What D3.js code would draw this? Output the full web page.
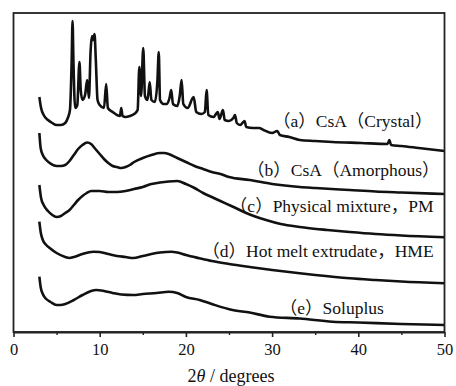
<!DOCTYPE html>
<html>
<head>
<meta charset="utf-8">
<script src="https://cdn.jsdelivr.net/npm/d3@7"></script>
<style>
  body { margin: 0; background: #fff; }
  svg { display: block; }
  .tick text { font-family: "Liberation Serif", "Times New Roman", serif; font-size: 16.5px; fill: #111; }
  .lbl { font-family: "Liberation Serif", "Times New Roman", "Noto Sans CJK SC", serif; font-size: 17.5px; fill: #111; }
</style>
</head>
<body>
<div id="chart"></div>
<script>
// XRD patterns, [2theta (deg), intensity (a.u., stacked)]
var crystal = [[3.0,235],[3.2,224],[3.5,217],[4.0,212],[4.5,209],[5.0,207],[5.5,207],[6.0,209],[6.3,214],[6.55,222],
  [6.75,272],[6.85,311],[6.95,272],[7.15,224],[7.4,227],[7.65,270],[7.8,242],[8.0,232],[8.3,237],[8.55,252],[8.75,234],
  [8.95,282],[9.1,296],[9.25,292],[9.4,298],[9.55,272],[9.75,232],[10.0,227],[10.5,224],[10.75,248],[10.95,224],[11.5,220],
  [12.0,217],[12.35,216],[12.5,224],[12.65,216],[13.0,215],[13.5,216],[14.0,218],[14.4,222],[14.6,265],[14.8,236],[15.05,284],
  [15.25,236],[15.55,232],[15.8,250],[16.0,232],[16.4,230],[16.7,252],[16.85,280],[17.0,232],[17.4,228],[17.8,228],[18.1,234],
  [18.3,242],[18.5,228],[19.0,226],[19.3,237],[19.5,252],[19.7,228],[20.2,224],[20.9,235],[21.2,220],[21.8,218],[22.2,220],
  [22.4,242],[22.6,217],[23.2,215],[23.7,220],[23.9,213],[24.3,222],[24.5,212],[25.0,211],[25.5,214],[25.7,217],[25.9,209],
  [26.3,207],[26.8,211],[27.0,205],[27.8,204],[28.5,204],[29.0,202],[30.0,199],[30.6,201],[30.9,197],[32.0,195],[33.2,192],
  [35.0,191],[37.0,190],[40.3,189],[43.4,188],[43.6,192],[43.8,187],[45.0,186],[47.0,184],[50.0,181]];

var amorphous = [[3.0,199],[3.15,184],[3.4,177],[3.8,172],[4.2,169],[5.0,166],[5.5,166],[6.0,167],[6.5,171],[7.0,177],
  [7.5,183],[8.0,187],[8.55,189.5],[9.0,188],[9.5,183],[10.0,178],[10.5,173],[11.0,169],[11.5,166],[12.0,165],[12.5,164],
  [13.0,165],[13.5,167],[14.0,170],[15.0,174],[16.0,177],[17.0,179],[17.5,179],[18.0,178],[19.0,174],[20.0,170],[21.0,166],
  [22.0,163],[23.0,160],[24.0,158],[25.0,155],[27.4,152],[30.0,148],[33.2,145],[35.0,144],[39.0,142],[42.0,140.5],
  [45.0,139.5],[50.0,138]];

var physMix = [[3.0,147],[3.2,134],[3.5,127],[4.0,121],[4.5,117],[5.0,115],[5.5,116],[6.0,119],[6.5,122],[7.0,127],
  [7.5,132],[8.0,136],[8.5,139],[9.0,141],[10.0,141],[11.0,140],[12.0,140],[13.0,141],[14.0,143],[15.0,145],[16.0,148],
  [17.0,149.5],[18.0,150.5],[19.0,151],[20.0,148],[21.0,144],[22.0,139],[23.0,135],[24.0,131],[25.4,125.5],[27.0,119],
  [29.3,112],[31.0,108],[33.2,105],[36.4,102],[39.0,100],[42.0,98],[45.0,96.5],[50.0,94.7]];

var hme = [[3.0,110.3],[3.15,100],[3.4,92],[3.8,87],[4.2,84],[5.0,79],[6.0,75],[6.5,74],[7.0,75],[8.0,78],[9.25,80.3],
  [10.0,80],[11.0,78],[12.0,76],[13.0,75],[13.9,74],[15.0,76],[16.0,78],[17.0,79.5],[18.3,80.3],[19.0,79.5],[20.0,77],
  [21.6,73.7],[23.0,71],[25.0,68],[27.4,65],[30.0,62],[33.2,58.7],[35.0,57],[39.0,53.7],[42.0,52],[45.0,50.5],[50.0,48.7]];

var soluplus = [[3.0,55.3],[3.15,45],[3.4,38],[3.8,33],[4.3,30],[5.0,27],[5.5,27],[6.0,28],[7.0,32],[8.0,37],[9.0,41],
  [9.6,42],[10.5,41],[11.5,39],[12.5,37.5],[13.9,37],[15.0,38],[16.6,39],[18.0,40.3],[19.0,39],[20.0,35],[21.6,32],
  [23.0,28],[25.4,22],[27.4,19.5],[29.7,15.3],[33.2,13.5],[37.0,10.3],[40.0,9.5],[45.0,8],[50.0,7]];

var labels = ["（a）CsA（Crystal）", "（b）CsA（Amorphous）", "（c）Physical mixture，PM",
  "（d）Hot melt extrudate，HME", "（e）Soluplus"];
// where each label starts, [2theta, intensity]
var labelAt = [[30.1,205],[27.1,156],[25.1,120],[21.9,75],[30.9,18]];

var majorTicks = [0, 10, 20, 30, 40, 50];
var minorTicks = [5, 15, 25, 35, 45];

var W = 456, H = 386;
var margin = {top: 13, right: 11.5, bottom: 54, left: 13.5};

var svg = d3.select("#chart").append("svg")
  .attr("width", W).attr("height", H);

var x = d3.scaleLinear().domain([0, 50]).range([margin.left, W - margin.right]);
var y = d3.scaleLinear().domain([0, 319]).range([H - margin.bottom, margin.top]);

var line = d3.line()
  .x(d => x(d[0]))
  .y(d => y(d[1]))
  .curve(d3.curveMonotoneX);

var series = [crystal, amorphous, physMix, hme, soluplus];

svg.append("g").selectAll("path")
  .data(series)
  .enter().append("path")
    .attr("d", line)
    .attr("fill", "none")
    .attr("stroke", "#111")
    .attr("stroke-width", 2.6)
    .attr("stroke-linejoin", "round");

svg.append("g").selectAll("text")
  .data(labels)
  .enter().append("text")
    .attr("class", "lbl")
    .attr("x", (d, i) => x(labelAt[i][0]))
    .attr("y", (d, i) => y(labelAt[i][1]))
    .text(d => d);

// frame
svg.append("rect")
  .attr("x", x(0)).attr("y", y(319))
  .attr("width", x(50) - x(0)).attr("height", y(0) - y(319))
  .attr("fill", "none").attr("stroke", "#222").attr("stroke-width", 1.8);

var xAxis = svg.append("g")
  .attr("transform", "translate(0," + y(0) + ")")
  .call(d3.axisBottom(x).tickValues(majorTicks).tickSize(5).tickSizeOuter(0).tickPadding(6));
xAxis.select(".domain").attr("stroke", "#222").attr("stroke-width", 1.8);
xAxis.selectAll(".tick line").attr("stroke", "#222").attr("stroke-width", 1.6);

svg.append("g")
  .attr("transform", "translate(0," + y(0) + ")")
  .call(d3.axisBottom(x).tickValues(minorTicks).tickSize(3).tickFormat(""))
  .call(g => g.select(".domain").remove())
  .selectAll(".tick line").attr("stroke", "#222").attr("stroke-width", 1.4);

var title = svg.append("text")
  .attr("class", "lbl")
  .attr("x", (x(0) + x(50)) / 2 + 2)
  .attr("y", 382)
  .attr("text-anchor", "middle")
  .style("font-size", "18px");
title.append("tspan").text("2");
title.append("tspan").attr("font-style", "italic").text("θ");
title.append("tspan").text(" / degrees");
</script>
</body>
</html>
